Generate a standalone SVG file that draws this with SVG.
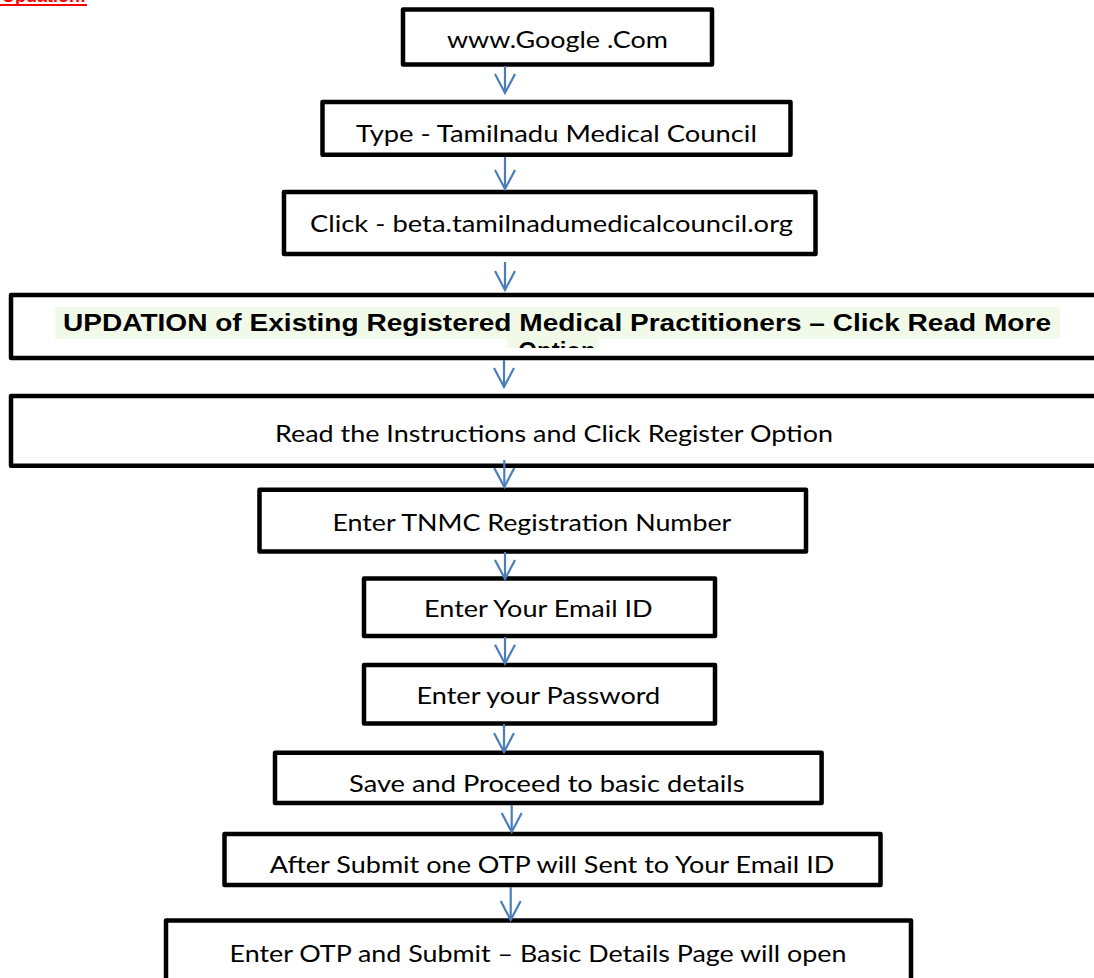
<svg xmlns="http://www.w3.org/2000/svg" width="1094" height="978" viewBox="0 0 1094 978">
<style>
.box{fill:#fff;stroke:#000;stroke-width:4.5;stroke-linejoin:round}
.t{font-family:Lato,"Open Sans","Liberation Sans",sans-serif;font-size:24px;fill:#000;text-anchor:middle}
.b{font-family:"Liberation Sans",Arial,sans-serif;font-weight:bold;font-size:24px;fill:#000;text-anchor:middle}
.red{font-family:"Liberation Sans",Arial,sans-serif;font-weight:bold;font-size:18px;fill:#ff0000;text-anchor:end}
.hl{fill:#f1fae8}
.conn line{stroke:#4a7ebb;stroke-width:2.2;fill:none;marker-end:url(#ah)}
</style>
<defs>
<marker id="ah" viewBox="-21 -12 24 24" refX="0" refY="0" markerWidth="24" markerHeight="24" markerUnits="userSpaceOnUse" orient="auto">
<path d="M-19,-10 L0,0 L-19,10" fill="none" stroke="#4a7ebb" stroke-width="2.2" stroke-linejoin="miter"/>
</marker>
<clipPath id="c1"><rect x="0" y="0" width="1094" height="52.5"/></clipPath>
<clipPath id="c2"><rect x="0" y="100" width="1094" height="46"/></clipPath>
<clipPath id="c4"><rect x="0" y="290" width="1094" height="58"/></clipPath>
</defs>
<rect x="0" y="0" width="1094" height="978" fill="#fff"/>

<g id="title">
<text class="red" x="86" y="2">Updation:</text>
<rect x="0" y="4" width="87" height="2" fill="#ff0000"/>
</g>

<g id="n1">
<rect class="box" x="403" y="9.5" width="309" height="55"/>
<text class="t" x="557.4" y="48" textLength="221" lengthAdjust="spacingAndGlyphs" clip-path="url(#c1)">www.Google .Com</text>
</g>
<g id="n2">
<rect class="box" x="322.5" y="102" width="468" height="52.7"/>
<text class="t" x="556.4" y="141.5" textLength="401" lengthAdjust="spacingAndGlyphs" clip-path="url(#c2)">Type - Tamilnadu Medical Council</text>
</g>
<g id="n3">
<rect class="box" x="284" y="192" width="531.5" height="62"/>
<text class="t" x="551.5" y="232" textLength="483" lengthAdjust="spacingAndGlyphs">Click - beta.tamilnadumedicalcouncil.org</text>
</g>
<g id="n4">
<rect class="box" x="11" y="295" width="1100" height="63"/>
<g clip-path="url(#c4)">
<rect class="hl" x="55" y="307" width="1005" height="32"/>
<rect class="hl" x="507" y="339" width="92" height="14"/>
<text class="b" x="557" y="331" textLength="988" lengthAdjust="spacingAndGlyphs">UPDATION of Existing Registered Medical Practitioners – Click Read More</text>
<text class="b" x="557" y="359">Option</text>
</g>
</g>
<g id="n5">
<rect class="box" x="11" y="396" width="1100" height="69.7"/>
<text class="t" x="554" y="442" textLength="558" lengthAdjust="spacingAndGlyphs">Read the Instructions and Click Register Option</text>
</g>
<g id="n6">
<rect class="box" x="259.5" y="489.7" width="546.5" height="61.8"/>
<text class="t" x="531.9" y="531" textLength="399" lengthAdjust="spacingAndGlyphs">Enter TNMC Registration Number</text>
</g>
<g id="n7">
<rect class="box" x="364" y="578.5" width="351" height="57.5"/>
<text class="t" x="538.3" y="617.4" textLength="228.6" lengthAdjust="spacingAndGlyphs">Enter Your Email ID</text>
</g>
<g id="n8">
<rect class="box" x="364" y="665" width="351" height="58.6"/>
<text class="t" x="538.4" y="703.5" textLength="243.8" lengthAdjust="spacingAndGlyphs">Enter your Password</text>
</g>
<g id="n9">
<rect class="box" x="275" y="752.7" width="546.6" height="50.3"/>
<text class="t" x="546.8" y="791.7" textLength="395.5" lengthAdjust="spacingAndGlyphs">Save and Proceed to basic details</text>
</g>
<g id="n10">
<rect class="box" x="224.5" y="834" width="656" height="51"/>
<text class="t" x="552" y="872.7" textLength="564.6" lengthAdjust="spacingAndGlyphs">After Submit one OTP will Sent to Your Email ID</text>
</g>
<g id="n11">
<rect class="box" x="166" y="920.5" width="745" height="80"/>
<text class="t" x="538" y="962.3" textLength="617" lengthAdjust="spacingAndGlyphs">Enter OTP and Submit – Basic Details Page will open</text>
</g>

<g id="connectors" class="conn">
<line x1="505" y1="66" x2="505" y2="93"/>
<line x1="505" y1="157" x2="505" y2="189"/>
<line x1="505" y1="262" x2="505" y2="290"/>
<line x1="504" y1="360" x2="504" y2="387"/>
<line x1="504.3" y1="460" x2="504.3" y2="487"/>
<line x1="505" y1="552" x2="505" y2="579"/>
<line x1="505" y1="637" x2="505" y2="663.7"/>
<line x1="504" y1="724" x2="504" y2="752"/>
<line x1="511.7" y1="805" x2="511.7" y2="832"/>
<line x1="510.7" y1="887" x2="510.7" y2="920"/>
</g>
</svg>
